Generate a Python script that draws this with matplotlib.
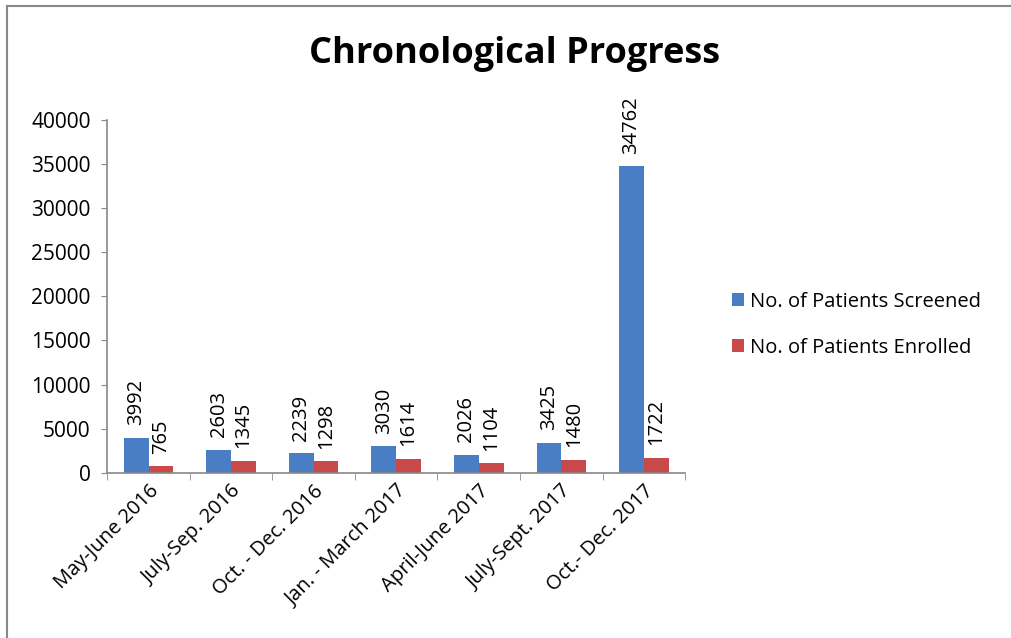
import numpy as np
import matplotlib.pyplot as plt
from matplotlib.lines import Line2D

periods = ['May-June 2016', 'July-Sep. 2016', 'Oct. - Dec. 2016', 'Jan. - March 2017',
           'April-June 2017', 'July-Sept. 2017', 'Oct.- Dec. 2017']
screened = [3992, 2603, 2239, 3030, 2026, 3425, 34762]
enrolled = [765, 1345, 1298, 1614, 1104, 1480, 1722]
series_names = ['No. of Patients Screened', 'No. of Patients Enrolled']

blue = '#4a7ec4'
red = '#c9484a'

plt.rcParams['font.family'] = ['Open Sans', 'DejaVu Sans']

fig = plt.figure(figsize=(10.12, 6.38), dpi=100)
ax = fig.add_axes([0.106, 0.259, 0.571, 0.553])

x = np.arange(len(periods))
w = 0.3
b1 = ax.bar(x - w / 2, screened, w, color=blue, label=series_names[0])
b2 = ax.bar(x + w / 2, enrolled, w, color=red, label=series_names[1])

for bars in (b1, b2):
    for r in bars:
        ax.annotate(f'{int(r.get_height())}', (r.get_x() + r.get_width() / 2, r.get_height()),
                    xytext=(0, 9), textcoords='offset points', rotation=90,
                    ha='center', va='bottom', fontsize=14.5)

ax.set_xlim(-0.5, len(periods) - 0.5)
ax.set_ylim(0, 40000)
ax.set_yticks(np.arange(0, 40001, 5000))
ax.tick_params(axis='y', labelsize=15, length=4, color='#888888', pad=8)
ax.set_xticks(x)
ax.set_xticklabels(periods, rotation=45, ha='right', rotation_mode='anchor', fontsize=14.5)
ax.tick_params(axis='x', length=0, pad=6)
# tick marks between groups
ax.set_xticks(np.arange(-0.5, len(periods)), minor=True)
ax.tick_params(axis='x', which='minor', length=5, color='#888888')

for s in ('top', 'right'):
    ax.spines[s].set_visible(False)
for s in ('left', 'bottom'):
    ax.spines[s].set_color('#888888')
    ax.spines[s].set_linewidth(1.2)

fig.text(0.508, 0.915, 'Chronological Progress', ha='center', va='center',
         fontsize=26, fontweight='bold')

ax.legend(loc='upper left', bbox_to_anchor=(1.05, 0.565), frameon=False, fontsize=14.5,
          handlelength=0.6, handleheight=0.6, handletextpad=0.3, labelspacing=1.3)

# outer frame (left and top edges)
fig.add_artist(Line2D([0.007, 0.007], [0, 0.99], color='#888888', lw=1.5))
fig.add_artist(Line2D([0.007, 1.0], [0.99, 0.99], color='#888888', lw=1.5))

fig.savefig('out.png', dpi=100)
